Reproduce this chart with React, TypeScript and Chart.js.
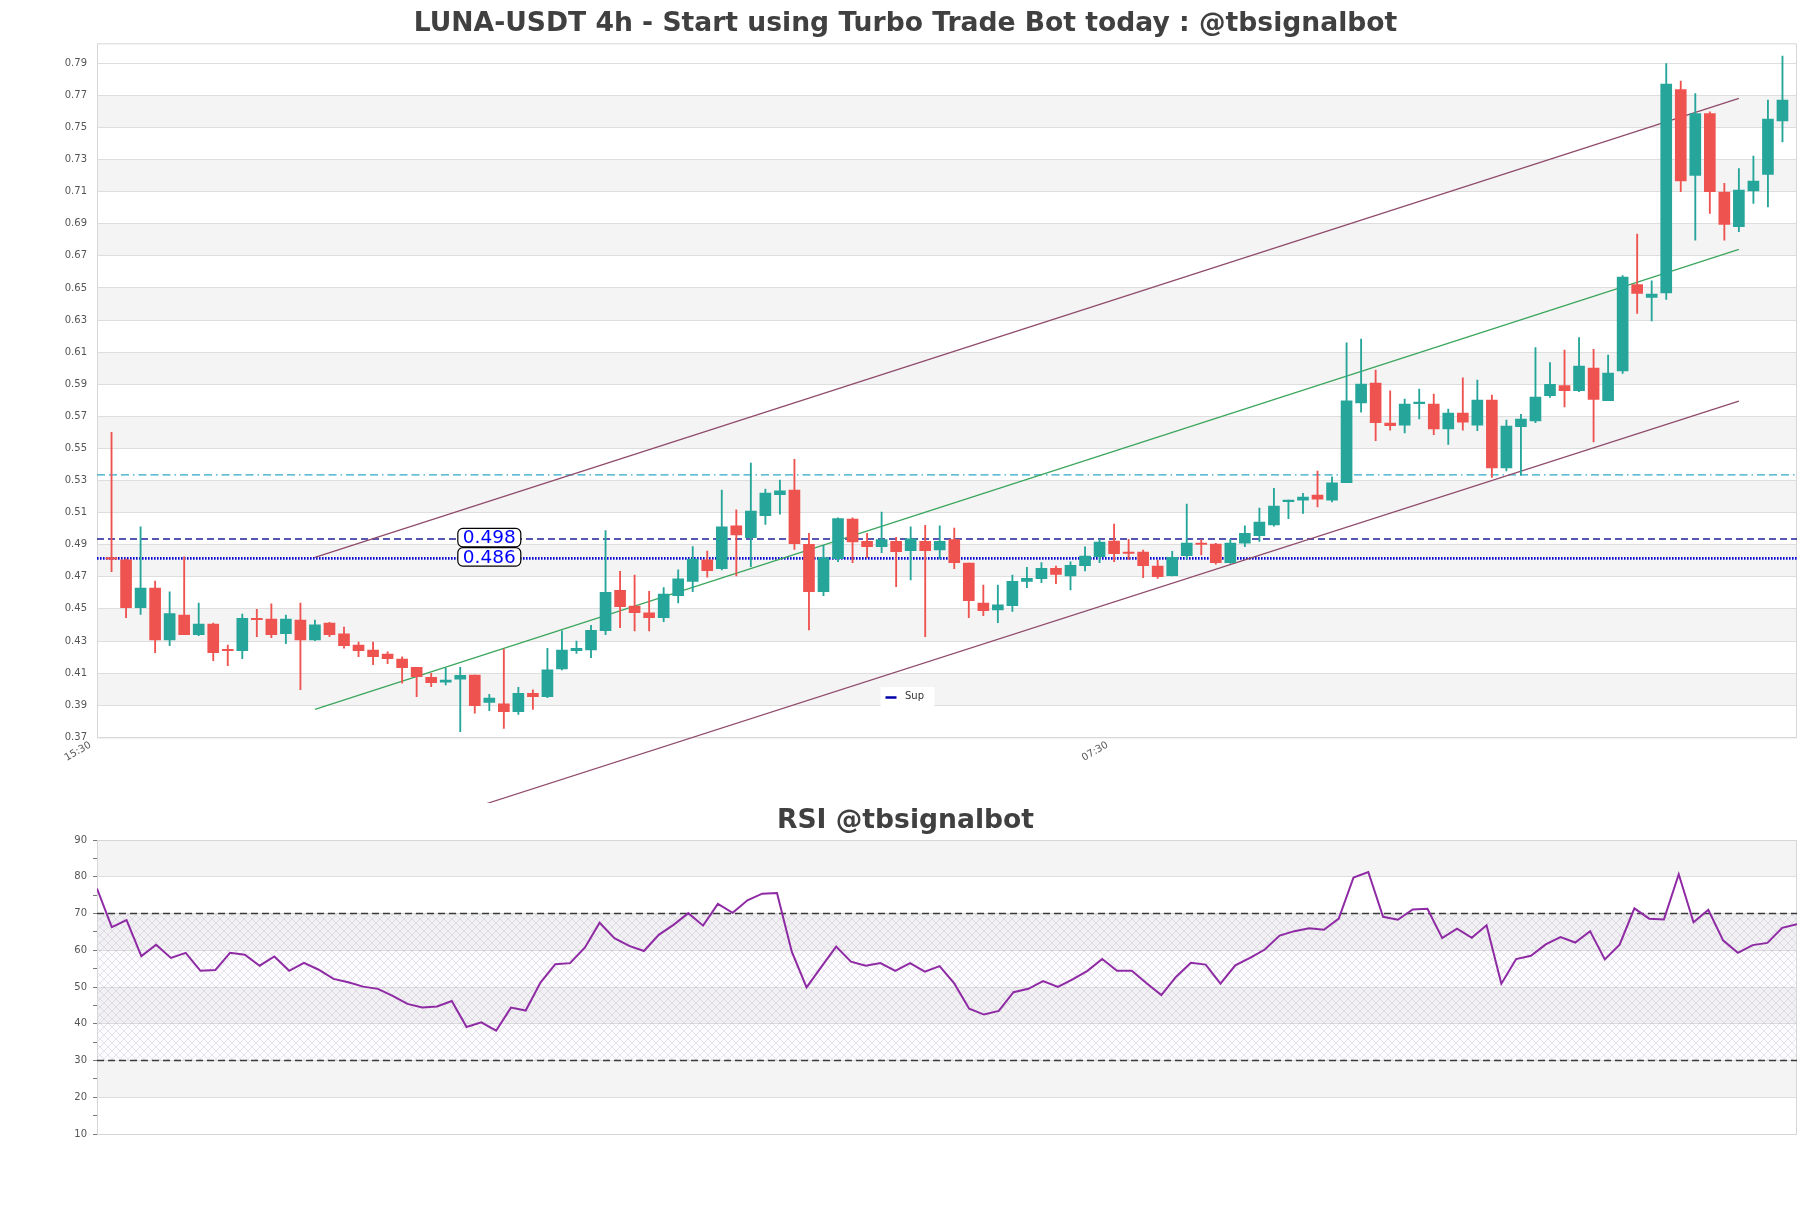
import React, { useEffect, useRef } from 'react';
import { Chart, registerables } from 'chart.js';

Chart.register(...registerables);

// ---------- DATA ----------
const OPEN = [
  0.4865, 0.4850, 0.4553, 0.4675, 0.4351, 0.4507, 0.4385, 0.4451, 0.4289, 0.4285,
  0.4487, 0.4482, 0.4391, 0.4476, 0.4351, 0.4457, 0.4389, 0.4320, 0.4289, 0.4264,
  0.4233, 0.4181, 0.4119, 0.4088, 0.4107, 0.4133, 0.3963, 0.3953, 0.3905, 0.4019,
  0.3998, 0.4171, 0.4285, 0.4289, 0.4410, 0.4661, 0.4563, 0.4520, 0.4491, 0.4628,
  0.4716, 0.4850, 0.4796, 0.5062, 0.4989, 0.5126, 0.5257, 0.5286, 0.4948, 0.4652,
  0.4858, 0.5105, 0.4966, 0.4933, 0.4966, 0.4908, 0.4966, 0.4912, 0.4977, 0.4831,
  0.4582, 0.4538, 0.4565, 0.4717, 0.4733, 0.4798, 0.4750, 0.4814, 0.4870, 0.4968,
  0.4899, 0.4899, 0.4812, 0.4752, 0.4876, 0.4955, 0.4949, 0.4833, 0.4955, 0.5001,
  0.5068, 0.5213, 0.5223, 0.5254, 0.5223, 0.5331, 0.5829, 0.5952, 0.5703, 0.5690,
  0.5823, 0.5821, 0.5667, 0.5765, 0.5690, 0.5846, 0.5424, 0.5680, 0.5717, 0.5873,
  0.5937, 0.5904, 0.6045, 0.5842, 0.6028, 0.6566, 0.6485, 0.6514, 0.7781, 0.7246,
  0.7632, 0.7142, 0.6926, 0.7150, 0.7252, 0.7586,
];
const HIGH = [
  0.5645, 0.4855, 0.5056, 0.4719, 0.4651, 0.4869, 0.4582, 0.4457, 0.4320, 0.4513,
  0.4543, 0.4576, 0.4507, 0.4582, 0.4476, 0.4462, 0.4432, 0.4339, 0.4339, 0.4277,
  0.4246, 0.4181, 0.4144, 0.4177, 0.4181, 0.4133, 0.4013, 0.4295, 0.4057, 0.4040,
  0.4300, 0.4408, 0.4345, 0.4443, 0.5033, 0.4779, 0.4756, 0.4655, 0.4678, 0.4788,
  0.4933, 0.4906, 0.5286, 0.5162, 0.5454, 0.5292, 0.5348, 0.5477, 0.5016, 0.4941,
  0.5112, 0.5112, 0.5016, 0.5149, 0.4991, 0.5056, 0.5066, 0.5062, 0.5049, 0.4831,
  0.4694, 0.4694, 0.4756, 0.4804, 0.4833, 0.4812, 0.4839, 0.4932, 0.4978, 0.5074,
  0.4978, 0.4912, 0.4849, 0.4903, 0.5198, 0.4976, 0.4953, 0.4978, 0.5063, 0.5173,
  0.5296, 0.5223, 0.5265, 0.5403, 0.5368, 0.6203, 0.6226, 0.6033, 0.5904, 0.5852,
  0.5914, 0.5883, 0.5790, 0.5985, 0.5971, 0.5877, 0.5721, 0.5757, 0.6174, 0.6079,
  0.6157, 0.6236, 0.6162, 0.6126, 0.6622, 0.6880, 0.6589, 0.7943, 0.7833, 0.7756,
  0.7642, 0.7196, 0.7289, 0.7366, 0.7715, 0.7989,
];
const LOW = [
  0.4777, 0.4491, 0.4511, 0.4273, 0.4316, 0.4385, 0.4378, 0.4223, 0.4192, 0.4235,
  0.4372, 0.4366, 0.4329, 0.4042, 0.4347, 0.4372, 0.4300, 0.4248, 0.4198, 0.4204,
  0.4082, 0.3998, 0.4061, 0.4071, 0.3780, 0.3895, 0.3911, 0.3801, 0.3888, 0.3919,
  0.3992, 0.4165, 0.4268, 0.4241, 0.4385, 0.4428, 0.4408, 0.4408, 0.4466, 0.4582,
  0.4653, 0.4742, 0.4788, 0.4750, 0.4808, 0.5072, 0.5135, 0.4916, 0.4414, 0.4628,
  0.4840, 0.4833, 0.4865, 0.4896, 0.4684, 0.4725, 0.4372, 0.4856, 0.4796, 0.4491,
  0.4503, 0.4460, 0.4530, 0.4677, 0.4708, 0.4702, 0.4663, 0.4781, 0.4833, 0.4839,
  0.4854, 0.4739, 0.4735, 0.4750, 0.4856, 0.4881, 0.4824, 0.4829, 0.4932, 0.4966,
  0.5061, 0.5107, 0.5140, 0.5181, 0.5212, 0.5331, 0.5771, 0.5593, 0.5659, 0.5642,
  0.5728, 0.5630, 0.5570, 0.5659, 0.5655, 0.5364, 0.5404, 0.5379, 0.5705, 0.5863,
  0.5804, 0.5898, 0.5586, 0.5842, 0.6012, 0.6386, 0.6340, 0.6473, 0.7144, 0.6843,
  0.7009, 0.6843, 0.6895, 0.7071, 0.7050, 0.7455,
];
const CLOSE = [
  0.4855, 0.4553, 0.4675, 0.4351, 0.4516, 0.4385, 0.4451, 0.4273, 0.4285, 0.4487,
  0.4478, 0.4385, 0.4482, 0.4351, 0.4445, 0.4385, 0.4316, 0.4285, 0.4248, 0.4235,
  0.4179, 0.4123, 0.4086, 0.4102, 0.4131, 0.3942, 0.3990, 0.3905, 0.4019, 0.3998,
  0.4165, 0.4289, 0.4300, 0.4412, 0.4649, 0.4559, 0.4522, 0.4491, 0.4638, 0.4732,
  0.4856, 0.4784, 0.5056, 0.5006, 0.5155, 0.5267, 0.5280, 0.4952, 0.4652, 0.4865,
  0.5108, 0.4962, 0.4933, 0.4977, 0.4902, 0.4981, 0.4908, 0.4966, 0.4833, 0.4597,
  0.4534, 0.4570, 0.4717, 0.4735, 0.4798, 0.4760, 0.4816, 0.4874, 0.4962, 0.4889,
  0.4891, 0.4814, 0.4746, 0.4866, 0.4955, 0.4947, 0.4833, 0.4955, 0.5016, 0.5086,
  0.5186, 0.5223, 0.5242, 0.5229, 0.5331, 0.5842, 0.5946, 0.5705, 0.5686, 0.5821,
  0.5833, 0.5667, 0.5765, 0.5709, 0.5846, 0.5424, 0.5684, 0.5728, 0.5865, 0.5944,
  0.5904, 0.6058, 0.5850, 0.6014, 0.6612, 0.6510, 0.6506, 0.7815, 0.7212, 0.7632,
  0.7144, 0.6940, 0.7154, 0.7210, 0.7597, 0.7715,
];
const RSI = [
  76.8, 66.3, 68.2, 58.4, 61.5, 57.9, 59.3, 54.4, 54.6, 59.3,
  58.8, 55.8, 58.3, 54.4, 56.6, 54.7, 52.2, 51.3, 50.1, 49.5,
  47.6, 45.4, 44.4, 44.7, 46.2, 39.1, 40.4, 38.1, 44.4, 43.6,
  51.2, 56.2, 56.5, 60.7, 67.5, 63.3, 61.2, 59.8, 64.2, 66.9,
  70.1, 66.7, 72.6, 70.2, 73.6, 75.4, 75.6, 59.6, 49.9, 55.5,
  61.0, 56.9, 55.8, 56.5, 54.4, 56.5, 54.2, 55.7, 50.9, 44.1,
  42.5, 43.5, 48.6, 49.5, 51.6, 50.0, 52.1, 54.4, 57.6, 54.4,
  54.4, 51.0, 47.8, 52.8, 56.6, 56.1, 50.9, 55.9, 57.9, 60.2,
  64.0, 65.2, 66.0, 65.6, 68.6, 79.8, 81.3, 69.1, 68.3, 71.1,
  71.3, 63.3, 65.9, 63.4, 66.8, 50.9, 57.6, 58.5, 61.6, 63.6,
  62.1, 65.2, 57.5, 61.5, 71.4, 68.6, 68.4, 80.7, 67.6, 71.0,
  62.7, 59.3, 61.4, 62.0, 66.1, 67.1,
];

const PRICE_TICKS = [
  0.3745, 0.3945, 0.4145, 0.4345, 0.4545, 0.4745, 0.4945, 0.5145, 0.5345, 0.5545, 0.5745,
  0.5945, 0.6145, 0.6345, 0.6545, 0.6745, 0.6945, 0.7145, 0.7345, 0.7545, 0.7745, 0.7945,
];
const PRICE_MIN = 0.3745;
const PRICE_MAX = 0.8069;
const X_MIN = -1;
const X_MAX = 116;
const X_TICK_POS = [-1.45, 68.55];
const X_TICK_LABELS = ['15:30', '07:30'];

const SUP_LEVELS = [0.498, 0.486];
const SUP_LABEL_X = 26;
const RES_LEVEL = 0.538;

const TREND_X = [14, 112];
const TREND_UPPER = [0.4866, 0.7726];
const TREND_MID = [0.3919, 0.6785];
const TREND_LOWER = [0.2988, 0.584];

const RSI_TICKS = [10, 15, 20, 25, 30, 35, 40, 45, 50, 55, 60, 65, 70, 75, 80, 85, 90];
const RSI_LEVELS = [70, 30];
const RSI_BANDS = [[20, 30], [40, 50], [60, 70], [80, 90]];
const RSI_ZONE = [30, 70];

const TITLE = 'LUNA-USDT 4h - Start using Turbo Trade Bot today : @tbsignalbot';
const RSI_TITLE = 'RSI @tbsignalbot';

// ---------- STYLE ----------
const GREEN = '#26a69a';
const RED = '#ef5350';
const BAND = '#f4f4f4';
const GRID = '#dedede';
const FRAME = '#d6d6d6';
const FONT = 'DejaVu Sans';

Chart.defaults.font.family = FONT;

function roundRect(ctx: CanvasRenderingContext2D, x: number, y: number, w: number, h: number, r: number) {
  ctx.beginPath();
  ctx.moveTo(x + r, y);
  ctx.lineTo(x + w - r, y);
  ctx.arcTo(x + w, y, x + w, y + r, r);
  ctx.lineTo(x + w, y + h - r);
  ctx.arcTo(x + w, y + h, x + w - r, y + h, r);
  ctx.lineTo(x + r, y + h);
  ctx.arcTo(x, y + h, x, y + h - r, r);
  ctx.lineTo(x, y + r);
  ctx.arcTo(x, y, x + r, y, r);
  ctx.closePath();
}

const spacerAxis = {
  position: 'right',
  display: true,
  afterFit: (s: any) => {
    s.width = 14;
  },
  ticks: { display: false },
  grid: { display: false, drawTicks: false },
  border: { display: false },
};

const priceDecor = {
  id: 'priceDecor',
  beforeDraw(chart: any) {
    const { ctx, chartArea: a, scales } = chart;
    const y = scales.y;
    ctx.save();
    ctx.fillStyle = '#ffffff';
    ctx.fillRect(0, 0, chart.width, chart.height);
    ctx.fillStyle = BAND;
    for (let k = 1; k + 1 < PRICE_TICKS.length; k += 2) {
      const y1 = y.getPixelForValue(PRICE_TICKS[k + 1]);
      const y0 = y.getPixelForValue(PRICE_TICKS[k]);
      ctx.fillRect(a.left, y1, a.right - a.left, y0 - y1);
    }
    ctx.restore();
  },
  beforeDatasetsDraw(chart: any) {
    const { ctx, chartArea: a } = chart;
    ctx.save();
    ctx.strokeStyle = FRAME;
    ctx.lineWidth = 1;
    ctx.strokeRect(a.left + 0.5, a.top + 0.5, a.right - a.left - 1, a.bottom - a.top);
    ctx.restore();
  },
  afterDatasetsDraw(chart: any) {
    const { ctx, chartArea: a, scales } = chart;
    const x = scales.x;
    const y = scales.y;
    ctx.save();
    // level labels
    ctx.font = `18.5px "${FONT}"`;
    ctx.textAlign = 'center';
    ctx.textBaseline = 'middle';
    SUP_LEVELS.forEach((v) => {
      const text = v.toFixed(3);
      const cx = x.getPixelForValue(SUP_LABEL_X);
      const cy = y.getPixelForValue(v) - 1.5;
      const w = ctx.measureText(text).width + 10;
      const h = 18.5;
      roundRect(ctx, cx - w / 2, cy - h / 2, w, h, 5);
      ctx.fillStyle = '#ffffff';
      ctx.fill();
      ctx.strokeStyle = '#000000';
      ctx.lineWidth = 1.2;
      ctx.stroke();
      ctx.fillStyle = '#0000ff';
      ctx.fillText(text, cx, cy + 1);
    });
    // x tick labels
    ctx.font = `10px "${FONT}"`;
    ctx.fillStyle = '#555555';
    ctx.textAlign = 'right';
    ctx.textBaseline = 'middle';
    X_TICK_POS.forEach((v, i) => {
      const px = x.getPixelForValue(v);
      ctx.save();
      ctx.translate(px, a.bottom + 7);
      ctx.rotate(-Math.PI / 6);
      ctx.fillText(X_TICK_LABELS[i], 0, 0);
      ctx.restore();
    });
    // legend
    const lx = 880.5, ly = 687, lw = 54, lh = 19;
    ctx.fillStyle = 'rgba(255,255,255,0.95)';
    ctx.fillRect(lx, ly, lw, lh);
    ctx.strokeStyle = '#0000a8';
    ctx.lineWidth = 2.5;
    ctx.beginPath();
    ctx.moveTo(lx + 5, ly + 10.5);
    ctx.lineTo(lx + 16, ly + 10.5);
    ctx.stroke();
    ctx.fillStyle = '#333333';
    ctx.textAlign = 'left';
    ctx.font = `10px "${FONT}"`;
    ctx.fillText('Sup', lx + 24.5, ly + 9.5);
    ctx.restore();
  },
};

const rsiDecor = {
  id: 'rsiDecor',
  beforeDraw(chart: any) {
    const { ctx, chartArea: a, scales } = chart;
    const y = scales.y;
    ctx.save();
    ctx.fillStyle = '#ffffff';
    ctx.fillRect(0, 0, chart.width, chart.height);
    ctx.fillStyle = BAND;
    RSI_BANDS.forEach(([lo, hi]) => {
      const y1 = y.getPixelForValue(hi);
      const y0 = y.getPixelForValue(lo);
      ctx.fillRect(a.left, y1, a.right - a.left, y0 - y1);
    });
    ctx.restore();
  },
  beforeDatasetsDraw(chart: any) {
    const { ctx, chartArea: a, scales } = chart;
    const y = scales.y;
    const pc = document.createElement('canvas');
    pc.width = 8;
    pc.height = 8;
    const g = pc.getContext('2d')!;
    g.strokeStyle = 'rgba(150,130,170,0.26)';
    g.lineWidth = 0.8;
    g.beginPath();
    g.moveTo(-1, -1);
    g.lineTo(9, 9);
    g.moveTo(9, -1);
    g.lineTo(-1, 9);
    g.stroke();
    const pat = ctx.createPattern(pc, 'repeat');
    ctx.save();
    const yTop = y.getPixelForValue(RSI_ZONE[1]);
    const yBot = y.getPixelForValue(RSI_ZONE[0]);
    ctx.fillStyle = 'rgba(200,175,210,0.05)';
    ctx.fillRect(a.left, yTop, a.right - a.left, yBot - yTop);
    if (pat) {
      ctx.fillStyle = pat;
      ctx.fillRect(a.left, yTop, a.right - a.left, yBot - yTop);
    }
    ctx.strokeStyle = FRAME;
    ctx.lineWidth = 1;
    ctx.strokeRect(a.left + 0.5, a.top + 0.5, a.right - a.left - 1, a.bottom - a.top);
    ctx.restore();
  },
};

export default function App() {
  const priceRef = useRef<HTMLCanvasElement>(null);
  const rsiRef = useRef<HTMLCanvasElement>(null);

  useEffect(() => {
    const n = OPEN.length;
    const idx = OPEN.map((_, i) => i);
    const colors = idx.map((i) => (CLOSE[i] >= OPEN[i] ? GREEN : RED));

    const hline = (v: number) => [
      { x: X_MIN, y: v },
      { x: X_MAX, y: v },
    ];
    const trend = (vals: number[]) => [
      { x: TREND_X[0], y: vals[0] },
      { x: TREND_X[1], y: vals[1] },
    ];
    const lineBase = { type: 'line' as const, pointRadius: 0, fill: false, tension: 0, clip: false as any };

    const price = new Chart(priceRef.current!, {
      type: 'bar',
      data: {
        datasets: [
          {
            label: 'body',
            data: idx.map((i) => ({ x: i, y: [OPEN[i], CLOSE[i]] })) as any,
            backgroundColor: colors,
            borderWidth: 0,
            barThickness: 11,
            grouped: false,
            minBarLength: 1.3,
            order: 0,
          } as any,
          {
            label: 'wick',
            data: idx.map((i) => ({ x: i, y: [LOW[i], HIGH[i]] })) as any,
            backgroundColor: colors,
            borderWidth: 0,
            barThickness: 1.2,
            grouped: false,
            order: 1,
          } as any,
          {
            ...lineBase,
            label: 'Sup',
            data: hline(SUP_LEVELS[1]),
            borderColor: '#0a0ad0',
            borderWidth: 2.6,
            borderDash: [1.6, 1.4],
            order: 3,
          } as any,
          {
            ...lineBase,
            label: 'Sup2',
            data: hline(SUP_LEVELS[0]),
            borderColor: '#20209a',
            borderWidth: 1.5,
            borderDash: [7, 4],
            order: 3,
          } as any,
          {
            ...lineBase,
            label: 'Res',
            data: hline(RES_LEVEL),
            borderColor: '#2ea8c8',
            borderWidth: 1.3,
            borderDash: [8, 4, 8, 4, 8, 4, 1.5, 4],
            order: 3,
          } as any,
          {
            ...lineBase,
            label: 'upper',
            data: trend(TREND_UPPER),
            borderColor: '#8f4a6a',
            borderWidth: 1.2,
            order: 2,
          } as any,
          {
            ...lineBase,
            label: 'mid',
            data: trend(TREND_MID),
            borderColor: '#3aa55c',
            borderWidth: 1.2,
            order: 2,
          } as any,
          {
            ...lineBase,
            label: 'lower',
            data: trend(TREND_LOWER),
            borderColor: '#8f4a6a',
            borderWidth: 1.2,
            order: 2,
          } as any,
        ],
      },
      options: {
        responsive: false,
        animation: false,
        devicePixelRatio: 1,
        events: [],
        layout: { padding: { top: 8, right: 0, bottom: 65.7, left: 0 } },
        plugins: {
          legend: { display: false },
          tooltip: { enabled: false },
          title: {
            display: true,
            text: TITLE,
            color: '#404040',
            font: { family: FONT, size: 26.6, weight: 'bold' },
            padding: { top: 0, bottom: 3.4 },
          },
        },
        scales: {
          x: {
            type: 'linear',
            display: false,
            min: X_MIN,
            max: X_MAX,
            offset: false,
          },
          y: {
            type: 'linear',
            position: 'left',
            min: PRICE_MIN,
            max: PRICE_MAX,
            afterFit: (s: any) => {
              s.width = 97;
            },
            afterBuildTicks: (s: any) => {
              s.ticks = PRICE_TICKS.map((v) => ({ value: v }));
            },
            ticks: {
              padding: 10,
              color: '#555555',
              font: { family: FONT, size: 10 },
              callback: (v: any) => Number(v).toFixed(2),
            },
            grid: { color: GRID, drawTicks: false },
            border: { display: false },
          },
          yRight: spacerAxis,
        },
      } as any,
      plugins: [priceDecor],
    });

    const rsi = new Chart(rsiRef.current!, {
      type: 'line',
      data: {
        datasets: [
          {
            label: 'RSI',
            data: RSI.map((v, i) => ({ x: i, y: v })),
            borderColor: '#8e2aa4',
            borderWidth: 2,
            pointRadius: 0,
            tension: 0,
            fill: false,
            order: 0,
          },
          ...RSI_LEVELS.map((v) => ({
            label: 'lvl' + v,
            data: [
              { x: 0, y: v },
              { x: n - 1, y: v },
            ],
            borderColor: '#3a3a3a',
            borderWidth: 1.3,
            borderDash: [7, 4],
            pointRadius: 0,
            fill: false,
            order: 1,
          })),
        ],
      },
      options: {
        responsive: false,
        animation: false,
        devicePixelRatio: 1,
        events: [],
        layout: { padding: { top: 2, right: 0, bottom: 74, left: 0 } },
        plugins: {
          legend: { display: false },
          tooltip: { enabled: false },
          title: {
            display: true,
            text: RSI_TITLE,
            color: '#404040',
            font: { family: FONT, size: 26.6, weight: 'bold' },
            padding: { top: 0, bottom: 3.1 },
          },
        },
        scales: {
          x: { type: 'linear', display: false, min: 0, max: n - 1 },
          y: {
            type: 'linear',
            position: 'left',
            min: 10,
            max: 90,
            afterFit: (s: any) => {
              s.width = 97;
            },
            afterBuildTicks: (s: any) => {
              s.ticks = RSI_TICKS.map((v) => ({ value: v }));
            },
            ticks: {
              padding: 6,
              color: '#555555',
              font: { family: FONT, size: 10 },
              autoSkip: false,
              callback: (v: any) => (Number(v) % 10 === 0 ? String(v) : ''),
            },
            grid: {
              color: (c: any) => (c.tick && c.tick.value % 10 === 0 ? GRID : 'rgba(0,0,0,0)'),
              tickColor: '#777777',
              tickLength: 4,
              drawTicks: true,
            },
            border: { display: false },
          },
          yRight: spacerAxis,
        },
      } as any,
      plugins: [rsiDecor],
    });

    return () => {
      price.destroy();
      rsi.destroy();
    };
  }, []);

  return (
    <div style={{ position: 'absolute', left: 0, top: 0, width: 1811, height: 1208, background: '#ffffff' }}>
      <canvas ref={priceRef} width={1811} height={803} style={{ position: 'absolute', left: 0, top: 0 }} />
      <canvas ref={rsiRef} width={1811} height={405} style={{ position: 'absolute', left: 0, top: 803 }} />
    </div>
  );
}
